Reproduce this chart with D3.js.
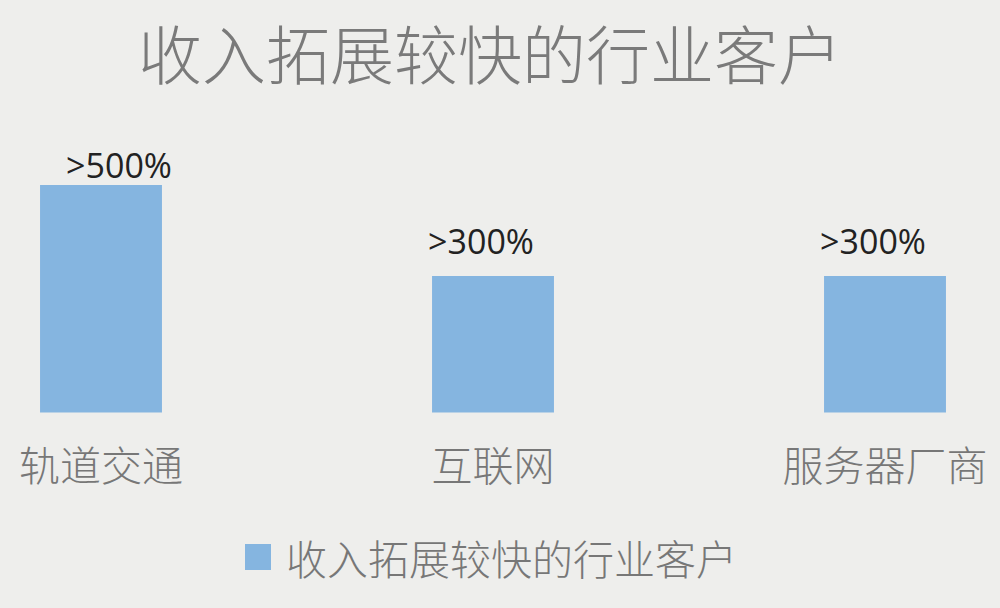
<!DOCTYPE html>
<meta charset="utf-8">
<script src="https://cdn.jsdelivr.net/npm/d3@7"></script>
<head>
<style>
    body { margin: 0; background: #eeeeec; }
    svg { display: block; }
</style>
</head>
<body>
<script>

    var categories = ["轨道交通", "互联网", "服务器厂商"];
    var values = [500, 300, 300];
    var valueLabels = [">500%", ">300%", ">300%"];
    var seriesName = "收入拓展较快的行业客户";
    var chartTitle = "收入拓展较快的行业客户";

    var width = 1000;
    var height = 608;
    var cjkFont = "'Noto Sans CJK SC', 'Noto Sans', sans-serif";

    // labels were dragged a bit by hand in the original
    var labelNudgeX = [18, -12, -12];
    var labelNudgeY = [-7, -22, -22];

    var svg = d3.select("body").append("svg")
        .attr("width", width)
        .attr("height", height);

    svg.append("rect")
        .attr("width", width)
        .attr("height", height)
        .style("fill", "#eeeeec");

    // bands are 392px apart, bars 122px wide
    var x = d3.scaleBand()
        .domain(categories)
        .range([-95, 1081])
        .paddingInner(0.689)
        .paddingOuter(0.3445);

    var y = d3.scaleLinear()
        .domain([0, 500])
        .range([412.5, 185]);

    svg.append("text")
        .attr("x", 490)
        .attr("y", 51)
        .attr("text-anchor", "middle")
        .attr("dominant-baseline", "central")
        .style("font-family", cjkFont)
        .style("font-weight", 300)
        .style("font-size", "64px")
        .style("fill", "#7a7a7a")
        .text(chartTitle);

    svg.selectAll(".bar")
        .data(values)
        .enter()
        .append("rect")
        .attr("class", "bar")
        .attr("x", function(d, i) { return x(categories[i]); })
        .attr("y", function(d) { return y(d); })
        .attr("width", x.bandwidth())
        .attr("height", function(d) { return y(0) - y(d); })
        .style("fill", "#85b5e0");

    svg.selectAll(".valLabel")
        .data(values)
        .enter()
        .append("text")
        .attr("class", "valLabel")
        .attr("x", function(d, i) { return x(categories[i]) + x.bandwidth() / 2 + labelNudgeX[i]; })
        .attr("y", function(d, i) { return y(d) + labelNudgeY[i]; })
        .attr("text-anchor", "middle")
        .style("font-family", "'Open Sans', 'DejaVu Sans', sans-serif")
        .style("font-size", "34px")
        .style("fill", "#222")
        .text(function(d, i) { return valueLabels[i]; });

    var xAxis = svg.append("g")
        .attr("transform", "translate(0," + y(0) + ")")
        .call(d3.axisBottom(x).tickSize(0).tickPadding(0));

    xAxis.select(".domain").remove();
    xAxis.selectAll("text")
        .attr("y", 50)
        .attr("dy", 0)
        .attr("dominant-baseline", "central")
        .style("font-family", cjkFont)
        .style("font-weight", 300)
        .style("font-size", "41px")
        .style("fill", "#777");

    var legend = svg.append("g")
        .attr("transform", "translate(245,557)");

    legend.append("rect")
        .attr("x", 0)
        .attr("y", -13)
        .attr("width", 26)
        .attr("height", 26)
        .style("fill", "#85b5e0");

    legend.append("text")
        .attr("x", 41)
        .attr("y", 0)
        .attr("dominant-baseline", "central")
        .style("font-family", cjkFont)
        .style("font-weight", 300)
        .style("font-size", "41px")
        .style("fill", "#777")
        .text(seriesName);

</script>
</body>
</html>
